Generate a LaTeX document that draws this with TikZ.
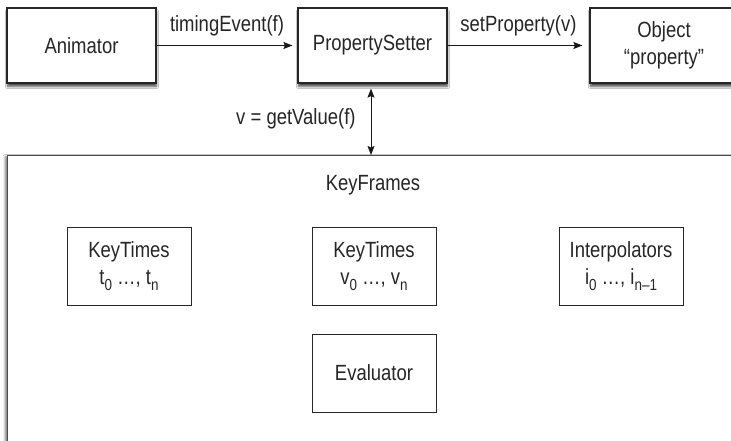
\documentclass[tikz,border=0pt]{standalone}
\usepackage{fontspec}
\setmainfont{Liberation Sans}[FakeStretch=0.84]
\usetikzlibrary{arrows.meta,shadows.blur}
\newcommand\sbs[1]{\raisebox{-0.28em}{\fontsize{16}{16}\selectfont #1}}
\begin{document}
\begin{tikzpicture}[x=1pt,y=-1pt,
  txt/.style={font=\fontsize{22}{27}\selectfont, text=black!85, align=center, inner sep=0pt},
  topbox/.style={txt, draw=black!85, line width=1.2pt, fill=white,
    minimum width=149pt, minimum height=75pt,
    blur shadow={shadow xshift=0.5pt, shadow yshift=-3.5pt, shadow blur steps=6, shadow opacity=70}},
  innerbox/.style={txt, draw=black!85, line width=0.9pt, fill=white,
    minimum width=124pt, minimum height=78pt},
  bigbox/.style={draw=black!70, line width=1.3pt, fill=white,
    minimum width=780pt, minimum height=330pt, anchor=north west, inner sep=0pt,
    blur shadow={shadow xshift=-2.5pt, shadow yshift=-1pt, shadow blur steps=4, shadow opacity=50}},
  conn/.style={draw=black!90, line width=0.9pt, -{Stealth[length=9pt,width=7pt,inset=1.5pt]}},
  dconn/.style={draw=black!90, line width=0.9pt, {Stealth[length=9pt,width=7pt,inset=1.5pt]}-{Stealth[length=9pt,width=7pt,inset=1.5pt]}},
  lbl/.style={txt}
]
\clip (0,0) rectangle (731,441);
\useasboundingbox (0,0) rectangle (731,441);
\fill[white] (0,0) rectangle (731,441);

% big KeyFrames box
\node[bigbox] (kf) at (7,155) {};
\node[txt] (kft) at (373,185) {KeyFrames};

% top row
\node[topbox] (anim) at (81.5,45.5) {Animator};
\node[topbox] (ps) at (372.5,45.5) {PropertySetter};
\node[topbox, minimum width=148pt] (obj) at (664,45.5) {Object\\“property”};

% inner boxes
\node[innerbox] (kt) at (129,266.5) {KeyTimes\\t\sbs{0} …, t\sbs{n}};
\node[innerbox] (kv) at (374,266.5) {KeyTimes\\v\sbs{0} …, v\sbs{n}};
\node[innerbox] (ip) at (621,266.5) {Interpolators\\i\sbs{0} …, i\sbs{n–1}};
\node[innerbox] (ev) at (374,373) {Evaluator};

% connectors
\draw[conn, shorten >=5pt] (anim) -- (ps) node[lbl, midway, above=9pt] {timingEvent(f)};
\draw[conn, shorten >=7pt] (ps) -- (obj) node[lbl, midway, above=9pt] {setProperty(v)};
\draw[dconn, shorten <=5pt] ([xshift=-1.5pt]ps.south) -- ([xshift=-1.5pt]ps.south |- kf.north)
  node[lbl, midway, left=15pt] {v = getValue(f)};
\end{tikzpicture}
\end{document}
